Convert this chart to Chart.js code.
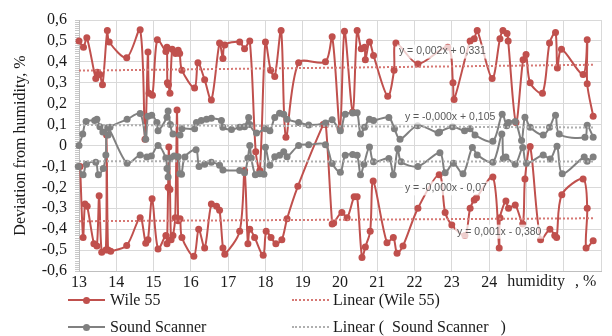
<!DOCTYPE html>
<html><head><meta charset="utf-8">
<script src="https://cdn.jsdelivr.net/npm/chart.js@4"></script>
<style>
html,body{margin:0;padding:0;background:#fff;}
#wrap{position:relative;width:612px;height:336px;overflow:hidden;background:#fff;}
canvas{position:absolute;left:0;top:0;}
.lg{position:absolute;font-family:"Liberation Serif",serif;font-size:16px;line-height:18px;color:#1a1a1a;white-space:pre;}
.ln{position:absolute;height:0;width:37px;}
.dt{position:absolute;width:7px;height:7px;border-radius:50%;}
</style></head><body>
<div id="wrap">
<canvas id="c" width="612" height="336"></canvas>
<div class="ln" style="left:68px;top:299px;border-top:2px solid rgb(192,80,77)"></div>
<div class="dt" style="left:83px;top:296.5px;background:rgb(192,80,77)"></div>
<div class="lg" style="left:110px;top:291px">Wile 55</div>
<div class="ln" style="left:292px;top:299px;border-top:2px dotted rgb(214,120,116)"></div>
<div class="lg" style="left:333px;top:291px">Linear (Wile 55)</div>
<div class="ln" style="left:68px;top:326px;border-top:2px solid rgb(128,128,128)"></div>
<div class="dt" style="left:83px;top:323.5px;background:rgb(128,128,128)"></div>
<div class="lg" style="left:110px;top:318px">Sound Scanner</div>
<div class="ln" style="left:292px;top:326px;border-top:2px dotted rgb(175,175,175)"></div>
<div class="lg" style="left:333px;top:318px">Linear (  Sound Scanner   )</div>
</div>
<script>
// ---- data (x = humidity %, y = deviation %) ----
const wileUpper = [[13.00,0.50],[13.12,0.47],[13.21,0.515],[13.45,0.32],[13.49,0.35],[13.56,0.34],[13.63,0.29],[13.76,0.55],[13.81,0.495],[14.28,0.42],[14.64,0.553],[14.77,0.03],[14.85,0.447],[14.88,0.25],[14.97,0.24],[15.10,0.506],[15.33,0.45],[15.36,0.47],[15.37,0.30],[15.40,0.29],[15.44,0.25],[15.50,0.46],[15.59,0.44],[15.66,0.455],[15.70,0.44],[15.76,0.36],[16.10,0.275],[16.19,0.396],[16.37,0.314],[16.55,0.217],[16.77,0.49],[16.86,0.416],[16.91,0.48],[17.31,0.495],[17.44,0.463],[17.58,0.50],[17.74,-0.03],[17.85,-0.12],[18.00,0.495],[18.14,0.36],[18.25,0.33],[18.42,0.55],[18.55,0.04],[18.89,0.396],[19.61,0.40],[19.79,0.52],[20.00,0.08],[20.12,0.546],[20.34,0.16],[20.46,0.55],[20.57,0.463],[20.66,0.47],[20.68,0.41],[20.79,0.495],[20.90,0.43],[21.28,0.235],[21.45,0.36],[21.50,0.49],[22.09,0.39],[22.89,0.47],[23.03,0.30],[23.06,0.22],[23.49,0.50],[23.60,0.51],[23.68,0.55],[24.08,0.32],[24.29,0.51],[24.37,0.55],[24.48,0.535],[24.51,0.50],[24.72,0.11],[24.91,0.41],[24.99,0.435],[25.10,0.30],[25.43,0.25],[25.62,0.49],[25.78,0.54],[25.83,0.37],[25.94,0.46],[26.52,0.34],[26.63,0.505],[26.63,0.295],[26.79,0.14]];
const wileLower = [[13.03,-0.10],[13.11,-0.44],[13.16,-0.28],[13.22,-0.29],[13.40,-0.47],[13.48,-0.48],[13.54,-0.24],[13.61,-0.51],[13.72,-0.50],[13.74,0.05],[13.78,-0.50],[13.85,-0.505],[14.28,-0.478],[14.64,-0.345],[14.79,-0.467],[14.85,-0.45],[14.96,-0.255],[15.12,-0.495],[15.33,-0.43],[15.36,-0.47],[15.39,-0.20],[15.41,-0.007],[15.44,-0.21],[15.47,-0.45],[15.52,-0.43],[15.58,-0.345],[15.63,0.17],[15.66,-0.36],[15.71,-0.35],[15.76,-0.44],[16.08,-0.53],[16.21,-0.40],[16.37,-0.49],[16.55,-0.28],[16.69,-0.29],[16.77,-0.31],[16.86,-0.49],[16.91,-0.52],[17.31,-0.41],[17.44,-0.12],[17.53,-0.47],[17.58,-0.40],[17.71,-0.44],[17.94,-0.525],[18.02,-0.41],[18.15,-0.44],[18.28,-0.47],[18.44,-0.45],[18.58,-0.35],[18.87,-0.195],[19.55,0.10],[19.62,0.10],[19.79,-0.375],[19.83,-0.37],[20.05,-0.32],[20.19,-0.345],[20.38,-0.245],[20.46,-0.245],[20.59,-0.535],[20.68,-0.485],[20.81,-0.41],[20.89,-0.17],[21.26,-0.465],[21.43,-0.44],[21.53,-0.515],[21.69,-0.48],[22.09,-0.30],[22.66,-0.14],[22.82,-0.32],[23.00,-0.38],[23.35,-0.43],[23.49,-0.30],[23.60,-0.26],[23.66,-0.25],[24.10,-0.15],[24.27,-0.49],[24.29,-0.345],[24.45,-0.265],[24.52,-0.30],[24.70,-0.285],[24.90,-0.375],[24.96,-0.16],[25.10,-0.005],[25.38,-0.45],[25.63,-0.40],[25.76,-0.43],[25.81,-0.44],[25.95,-0.235],[26.52,-0.16],[26.63,-0.30],[26.60,-0.49],[26.79,-0.455]];
const scannerUpper = [[13.00,0.0],[13.10,0.055],[13.19,0.115],[13.42,0.12],[13.48,0.125],[13.56,0.09],[13.64,0.065],[13.78,0.05],[13.83,0.087],[14.29,0.125],[14.64,0.153],[14.79,0.03],[14.85,0.14],[14.95,0.145],[15.09,0.11],[15.12,0.07],[15.36,0.135],[15.39,0.165],[15.45,0.10],[15.52,0.055],[15.71,0.05],[15.76,0.08],[16.10,0.08],[16.15,0.11],[16.28,0.12],[16.42,0.126],[16.55,0.13],[16.82,0.12],[16.86,0.087],[17.09,0.076],[17.31,0.087],[17.44,0.09],[17.55,0.134],[17.58,0.10],[17.76,0.06],[18.00,0.08],[18.12,0.07],[18.25,0.134],[18.38,0.154],[18.49,0.15],[18.58,0.126],[18.89,0.11],[19.16,0.098],[19.61,0.107],[19.79,0.123],[20.01,0.07],[20.14,0.15],[20.34,0.155],[20.46,0.157],[20.55,0.055],[20.66,0.087],[20.79,0.126],[20.90,0.12],[21.31,0.134],[21.46,0.08],[21.61,0.03],[22.08,0.095],[22.63,0.06],[22.67,0.065],[23.02,0.09],[23.34,0.07],[23.49,0.08],[23.62,0.05],[24.10,0.02],[24.35,0.15],[24.47,0.095],[24.52,0.11],[24.70,0.115],[24.87,0.024],[24.96,0.135],[25.10,0.087],[25.45,0.05],[25.62,0.087],[25.78,0.145],[25.88,0.055],[26.57,0.04],[26.63,0.097],[26.79,0.04]];
const scannerLower = [[12.98,-0.10],[13.11,-0.14],[13.20,-0.09],[13.45,-0.08],[13.52,-0.14],[13.65,-0.11],[13.72,-0.045],[13.77,0.085],[14.29,-0.085],[14.64,-0.045],[14.82,-0.055],[14.94,-0.05],[15.12,0.0],[15.33,-0.06],[15.36,-0.11],[15.39,-0.15],[15.45,-0.06],[15.55,-0.05],[15.66,-0.054],[15.71,-0.135],[15.75,-0.137],[15.84,-0.055],[16.14,-0.02],[16.22,-0.10],[16.37,-0.09],[16.55,-0.08],[16.77,-0.095],[16.86,-0.117],[17.31,-0.12],[17.44,-0.13],[17.53,-0.06],[17.58,0.0],[17.62,-0.06],[17.73,-0.14],[17.85,-0.135],[17.96,-0.137],[18.00,-0.008],[18.12,-0.094],[18.25,-0.054],[18.38,-0.047],[18.49,-0.03],[18.58,-0.054],[18.89,0.0],[19.16,0.004],[19.61,0.004],[19.79,-0.086],[20.01,-0.128],[20.14,-0.047],[20.34,-0.043],[20.46,-0.047],[20.55,-0.14],[20.64,-0.09],[20.79,-0.007],[20.90,-0.078],[21.31,-0.062],[21.43,-0.14],[21.55,-0.015],[21.64,-0.078],[22.09,-0.10],[22.68,-0.035],[22.82,-0.13],[23.04,-0.085],[23.30,-0.135],[23.55,-0.01],[23.68,-0.045],[24.10,-0.08],[24.34,0.055],[24.38,-0.062],[24.45,-0.055],[24.70,-0.09],[24.90,-0.01],[25.00,-0.085],[25.45,-0.045],[25.64,-0.065],[25.82,-0.003],[25.96,-0.135],[26.55,-0.055],[26.63,-0.075],[26.79,-0.055]];
// trend-line end points
const trendX = [13.0, 26.8];
const wileUpperTrend = [0.358, 0.386];
const wileLowerTrend = [-0.362, -0.348];
const scannerUpperTrend = [0.098, 0.086];
const scannerLowerTrend = [-0.075, -0.077];
const trendLabels = ["y = 0,002x + 0,331", "y = -0,000x + 0,105", "y = -0,000x - 0,07", "y = 0,001x - 0,380"];
const xTickLabels = [13,14,15,16,17,18,19,20,21,22,23,24];
const xAxisTitle = ["humidity", ", %"];
const yAxisTitle = "Deviation from humidity, %";

// ---- styling / layout ----
const RED = 'rgb(192,80,77)', GRAY = 'rgb(128,128,128)';
const RED_T = 'rgb(214,120,116)', GRAY_T = 'rgb(175,175,175)';
const SERIF = '"Liberation Serif", "Times New Roman", serif';
const labelPos = [[21.58,0.449],[21.74,0.134],[21.74,-0.205],[23.14,-0.412]];

const pts = arr => arr.map(p => ({x: p[0], y: p[1]}));
const series = (label, arr, color, order) => ({
  label, data: pts(arr), borderColor: color, backgroundColor: color,
  borderWidth: 2, pointRadius: 3.5, pointHoverRadius: 3.5, pointBorderWidth: 0,
  tension: 0.3, order, clip: 8
});
const trend = (label, ys, color) => ({
  label, data: trendX.map((x,i)=>({x, y: ys[i]})), borderColor: color,
  borderWidth: 2, borderDash: [2,2], pointRadius: 0, tension: 0, order: 0
});

const extras = {
  id: 'extras',
  beforeDatasetsDraw(chart) {
    const {ctx, chartArea: a, scales: {y}} = chart;
    ctx.save();
    ctx.strokeStyle = '#c8c8c8'; ctx.lineWidth = 1;
    ctx.beginPath();
    for (let i = -60; i <= 60; i++) {
      const py = Math.round(y.getPixelForValue(i/100)) + 0.5;
      ctx.moveTo(a.left - 4, py); ctx.lineTo(a.left, py);
    }
    ctx.stroke();
    ctx.restore();
  },
  afterDatasetsDraw(chart) {
    const {ctx, chartArea: a, scales: {x, y}} = chart;
    ctx.save();
    ctx.font = '10.5px "Liberation Sans", Arial, sans-serif';
    ctx.textBaseline = 'middle';
    trendLabels.forEach((t, i) => {
      const px = x.getPixelForValue(labelPos[i][0]);
      const py = y.getPixelForValue(labelPos[i][1]);
      const w = ctx.measureText(t).width;
      ctx.fillStyle = 'rgba(255,255,255,0.72)';
      ctx.fillRect(px - 2, py - 7, w + 4, 14);
      ctx.fillStyle = '#595959';
      ctx.fillText(t, px, py);
    });
    ctx.font = '16px ' + SERIF;
    ctx.fillStyle = '#1a1a1a';
    const ty = a.bottom + 11;
    ctx.textAlign = 'center';
    ctx.fillText(xAxisTitle[0], x.getPixelForValue(25.26), ty);
    ctx.textAlign = 'left';
    ctx.fillText(xAxisTitle[1], x.getPixelForValue(26.3), ty);
    ctx.restore();
  }
};

new Chart(document.getElementById('c'), {
  type: 'line',
  data: {
    datasets: [
      series('Wile 55', wileUpper, RED, 3),
      series('Wile 55 (2)', wileLower, RED, 3),
      series('Sound Scanner', scannerUpper, GRAY, 2),
      series('Sound Scanner (2)', scannerLower, GRAY, 2),
      trend('Linear (Wile 55)', wileUpperTrend, RED_T),
      trend('Linear (Wile 55) 2', wileLowerTrend, RED_T),
      trend('Linear (Sound Scanner)', scannerUpperTrend, GRAY_T),
      trend('Linear (Sound Scanner) 2', scannerLowerTrend, GRAY_T)
    ]
  },
  options: {
    responsive: false, animation: false, devicePixelRatio: 1,
    layout: {padding: {top: 16, right: 11, left: 0, bottom: 0}},
    plugins: {legend: {display: false}, tooltip: {enabled: false}},
    scales: {
      x: {
        type: 'linear', min: 13, max: 27,
        ticks: {stepSize: 1, padding: 2, autoSkip: false, maxRotation: 0, color: '#1a1a1a', font: {family: SERIF, size: 16},
          callback: v => xTickLabels.includes(v) ? String(v) : ''},
        grid: {color: '#d9d9d9', drawTicks: false},
        border: {color: '#bfbfbf'},
        afterFit: s => { s.height = 65; }
      },
      y: {
        min: -0.6, max: 0.6,
        ticks: {stepSize: 0.1, padding: 12, autoSkip: false, color: '#1a1a1a', font: {family: SERIF, size: 16, lineHeight: 1.0},
          callback: v => { const r = Math.round(v*10)/10; return (r === 0 ? '0' : String(r)).replace('.', ','); }},
        grid: {color: '#d9d9d9', drawTicks: false},
        border: {color: '#bfbfbf'},
        title: {display: true, text: yAxisTitle, color: '#1a1a1a', font: {family: SERIF, size: 16}, padding: {top: 11, bottom: 0}},
        afterFit: s => { s.width = 79; }
      }
    }
  },
  plugins: [extras]
});
</script>
</body></html>
